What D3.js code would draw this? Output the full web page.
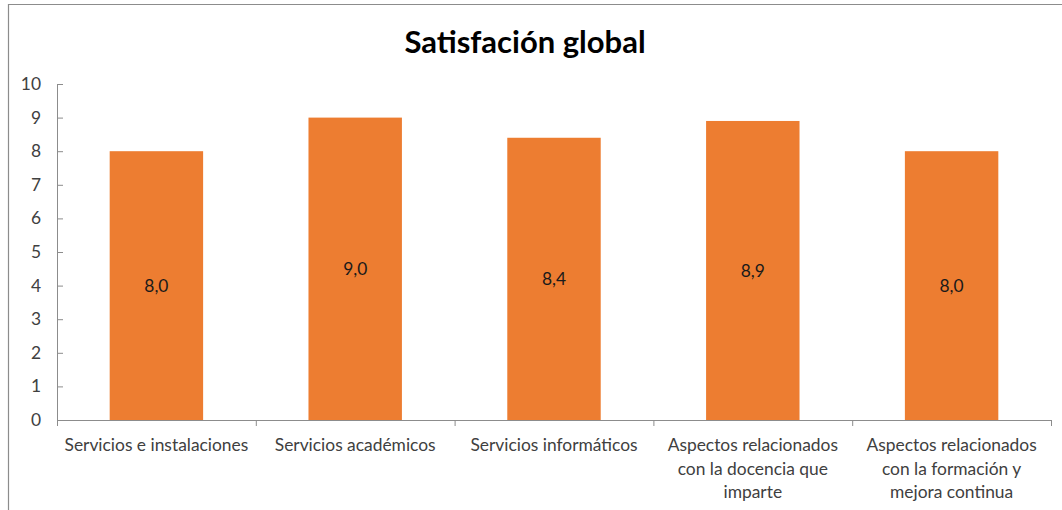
<!DOCTYPE html>
<html>
<head>
<meta charset="utf-8">
<script src="https://cdn.jsdelivr.net/npm/d3@7"></script>
<style>
  html, body { margin: 0; padding: 0; background: #fff; }
  svg { display: block; }
</style>
</head>
<body>
<svg id="chart" width="1062" height="510"></svg>
<script>
// Satisfaction scores per area (scale 0–10)
const categories = [
  "Servicios e instalaciones",
  "Servicios académicos",
  "Servicios informáticos",
  "Aspectos relacionados|con la docencia que|imparte",
  "Aspectos relacionados|con la formación y|mejora continua"
];
const values = [8.0, 9.0, 8.4, 8.9, 8.0];
const yTicks = [0, 1, 2, 3, 4, 5, 6, 7, 8, 9, 10];
const title = "Satisfación global";

const W = 1062, H = 510;
const plot = { left: 57, right: 1051, top: 84, bottom: 420 };
const FONT = "Lato, 'Open Sans', sans-serif";
const LABEL_SIZE = 17.4;

const svg = d3.select("#chart");

// chart frame (top and left edges visible)
svg.append("path")
  .attr("d", `M8.5,${H} L8.5,4.5 L${W},4.5`)
  .attr("fill", "none")
  .attr("stroke", "#8c8c8c")
  .attr("stroke-width", 1.2);

const x = d3.scaleBand()
  .domain(categories)
  .range([plot.left, plot.right])
  .paddingInner(0.53)
  .paddingOuter(0.265);

const xEdges = d3.scaleLinear()
  .domain([0, categories.length])
  .range([plot.left, plot.right]);

const y = d3.scaleLinear()
  .domain([0, 10])
  .range([plot.bottom, plot.top]);

// bars
svg.append("g").selectAll("rect")
  .data(categories)
  .join("rect")
  .attr("x", d => x(d))
  .attr("width", x.bandwidth())
  .attr("y", (d, i) => y(values[i]))
  .attr("height", (d, i) => y(0) - y(values[i]))
  .attr("fill", "#ED7D31");

// value labels, centred in each bar
const fmt = v => d3.format(".1f")(v).replace(".", ",");
svg.append("g").selectAll("text")
  .data(categories)
  .join("text")
  .attr("x", d => x(d) + x.bandwidth() / 2)
  .attr("y", (d, i) => (y(values[i]) + y(0)) / 2)
  .attr("dy", "0.35em")
  .attr("text-anchor", "middle")
  .attr("font-family", FONT)
  .attr("font-size", LABEL_SIZE)
  .attr("fill", "#1a1a1a")
  .text((d, i) => fmt(values[i]));

// y axis
const yAxis = svg.append("g")
  .attr("transform", `translate(${plot.left},0)`)
  .call(d3.axisLeft(y).tickValues(yTicks).tickSize(-6).tickPadding(16).tickFormat(d3.format("d")));
yAxis.select(".domain").attr("stroke", "#8c8c8c");
yAxis.selectAll(".tick line").attr("stroke", "#8c8c8c");
yAxis.selectAll(".tick text")
  .attr("font-family", FONT)
  .attr("font-size", LABEL_SIZE)
  .attr("fill", "#404040");

// x axis with ticks on category boundaries
const xAxis = svg.append("g")
  .attr("transform", `translate(0,${plot.bottom})`)
  .call(d3.axisBottom(xEdges).tickValues(d3.range(categories.length + 1)).tickSize(6).tickSizeOuter(6).tickFormat(""));
xAxis.select(".domain").attr("stroke", "#8c8c8c");
xAxis.selectAll(".tick line").attr("stroke", "#8c8c8c");

// category labels, wrapped on "|"
const labels = svg.append("g").selectAll("text")
  .data(categories)
  .join("text")
  .attr("x", d => x(d) + x.bandwidth() / 2)
  .attr("y", 451)
  .attr("text-anchor", "middle")
  .attr("font-family", FONT)
  .attr("font-size", LABEL_SIZE)
  .attr("fill", "#404040");
labels.each(function (d) {
  const t = d3.select(this);
  d.split("|").forEach((line, k) => {
    t.append("tspan")
      .attr("x", x(d) + x.bandwidth() / 2)
      .attr("y", 451 + k * 23.5)
      .text(line);
  });
});

// title
svg.append("text")
  .attr("x", 525)
  .attr("y", 53)
  .attr("text-anchor", "middle")
  .attr("font-family", FONT)
  .attr("font-weight", "bold")
  .attr("font-size", 31)
  .attr("fill", "#000")
  .text(title);
</script>
</body>
</html>
